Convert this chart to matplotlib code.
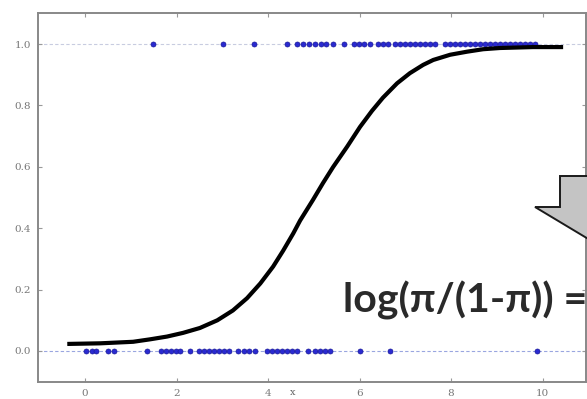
import matplotlib
matplotlib.use("Agg")
import matplotlib.pyplot as plt
from matplotlib.patches import Polygon

# ---- data ----
x_pos = [1.49, 3.02, 3.69, 4.42, 4.63, 4.77, 4.90, 5.03, 5.16, 5.27, 5.42, 5.66,
         5.88, 5.99, 6.10, 6.23, 6.40, 6.51, 6.62, 6.78, 6.89, 6.99, 7.10, 7.21,
         7.32, 7.43, 7.54, 7.65, 7.87, 7.98, 8.09, 8.20, 8.31, 8.42, 8.52, 8.63,
         8.74, 8.85, 8.96, 9.07, 9.18, 9.29, 9.40, 9.51, 9.62, 9.73, 9.84]
x_neg = [0.02, 0.15, 0.24, 0.50, 0.63, 1.36, 1.66, 1.77, 1.88, 1.99, 2.08, 2.30,
         2.49, 2.60, 2.71, 2.82, 2.93, 3.04, 3.15, 3.34, 3.48, 3.58, 3.72, 3.98,
         4.09, 4.20, 4.31, 4.42, 4.52, 4.63, 4.87, 5.03, 5.14, 5.25, 5.36, 6.01,
         6.67, 9.88]
curve_x = [-0.39, 0.33, 1.05, 1.42, 1.79, 2.14, 2.51, 2.89, 3.23, 3.54, 3.83, 4.11,
           4.33, 4.55, 4.70, 4.98, 5.20, 5.42, 5.73, 6.01, 6.27, 6.51, 6.82, 7.10,
           7.39, 7.61, 7.98, 8.35, 8.70, 9.07, 9.79, 10.45]
curve_y = [0.023, 0.025, 0.030, 0.038, 0.047, 0.059, 0.075, 0.100, 0.132, 0.172,
           0.220, 0.275, 0.327, 0.383, 0.425, 0.492, 0.547, 0.599, 0.666, 0.730,
           0.782, 0.825, 0.872, 0.905, 0.932, 0.948, 0.965, 0.975, 0.983, 0.987,
           0.990, 0.990]
xticks = [0, 2, 4, 6, 8, 10]
yticks = [0.0, 0.2, 0.4, 0.6, 0.8, 1.0]
annot_text = "log(\u03c0/(1-\u03c0)) ="

W, H = 587, 399
fig = plt.figure(figsize=(W / 100, H / 100), dpi=100)
ax = fig.add_axes([38 / W, (H - 382) / H, (586 - 38) / W, (382 - 13) / H])

ax.axhline(0, color="#9aa6e0", lw=0.8, ls=(0, (3, 2)), zorder=1)
ax.axhline(1, color="#c8cce0", lw=0.8, ls=(0, (3, 2)), zorder=1)
ax.plot(x_pos, [1] * len(x_pos), "o", color="#2a2ad0", mec="#1a1a9a", ms=3.6, mew=0.5, zorder=2)
ax.plot(x_neg, [0] * len(x_neg), "o", color="#2a2ad0", mec="#1a1a9a", ms=3.6, mew=0.5, zorder=2)
ax.plot(curve_x, curve_y, color="black", lw=3.0, solid_capstyle="butt",
        solid_joinstyle="round", zorder=3)

ax.set_xlim(-1.03, 10.95)
ax.set_ylim(-0.101, 1.101)
ax.set_xticks(xticks)
ax.set_xticklabels([str(t) for t in xticks])
ax.set_yticks(yticks)
ax.set_yticklabels([f"{t:.1f}" for t in yticks])
ax.tick_params(direction="in", length=3, width=0.8, color="#999999",
               labelsize=7.5, labelcolor="#777777", top=True, right=True, pad=5)
for lab in ax.get_xticklabels() + ax.get_yticklabels():
    lab.set_family("DejaVu Serif")
for s in ax.spines.values():
    s.set_color("#888888")
    s.set_linewidth(1.4)

fig.text(293 / W, 1 - 388 / H, "x", fontsize=7, color="#666666", ha="center", va="top",
         family="DejaVu Serif")

# block arrow (partly off the picture)
pts_px = [(560, 176), (630, 176), (630, 207), (655, 207), (595, 243), (535, 207), (560, 207)]
pts = [(px / W, 1 - py / H) for px, py in pts_px]
arrow = Polygon(pts, closed=True, transform=fig.transFigure, facecolor="#c4c4c4",
                edgecolor="#1a1a1a", lw=1.4, clip_on=False, zorder=5)
fig.add_artist(arrow)

fig.text(343 / W, 1 - 313 / H, annot_text, fontsize=29.5, fontweight="bold",
         color="#2a2a2a", ha="left", va="baseline", family=["Lato", "DejaVu Sans"], zorder=6)

fig.savefig("out.png", dpi=100)
